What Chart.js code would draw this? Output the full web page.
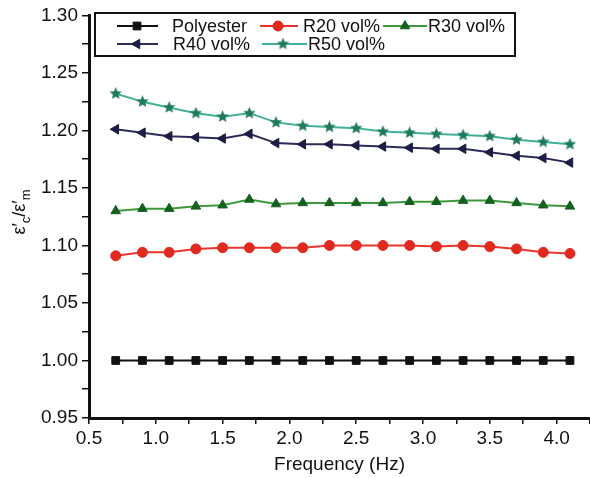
<!DOCTYPE html>
<html>
<head>
<meta charset="utf-8">
<script src="https://cdn.jsdelivr.net/npm/chart.js@4.4.1/dist/chart.umd.min.js"></script>
<style>
  body { margin: 0; background: #fff; }
  #wrap { width: 590px; height: 478px; }
</style>
</head>
<body>
<div id="wrap"><canvas id="chart" width="590" height="478"></canvas></div>
<script>
// values
const freq = [0.7, 0.9, 1.1, 1.3, 1.5, 1.7, 1.9, 2.1, 2.3, 2.5, 2.7, 2.9, 3.1, 3.3, 3.5, 3.7, 3.9, 4.1];
const polyester = [1.000, 1.000, 1.000, 1.000, 1.000, 1.000, 1.000, 1.000, 1.000, 1.000, 1.000, 1.000, 1.000, 1.000, 1.000, 1.000, 1.000, 1.000];
const r20 = [1.091, 1.094, 1.094, 1.097, 1.098, 1.098, 1.098, 1.098, 1.100, 1.100, 1.100, 1.100, 1.099, 1.100, 1.099, 1.097, 1.094, 1.093];
const r30 = [1.130, 1.132, 1.132, 1.134, 1.135, 1.140, 1.136, 1.137, 1.137, 1.137, 1.137, 1.138, 1.138, 1.139, 1.139, 1.137, 1.135, 1.134];
const r40 = [1.201, 1.198, 1.195, 1.194, 1.193, 1.197, 1.189, 1.188, 1.188, 1.187, 1.186, 1.185, 1.184, 1.184, 1.181, 1.178, 1.176, 1.172];
const r50 = [1.232, 1.225, 1.220, 1.215, 1.212, 1.215, 1.207, 1.204, 1.203, 1.202, 1.199, 1.198, 1.197, 1.196, 1.195, 1.192, 1.190, 1.188];
const seriesNames = ["Polyester", "R20 vol%", "R30 vol%", "R40 vol%", "R50 vol%"];

const FONT = "'Liberation Sans', Arial, sans-serif";

// filled star marker (chart.js 'star' is only strokes)
function makeStar(color, size) {
  const c = document.createElement("canvas");
  c.width = size; c.height = size;
  const g = c.getContext("2d");
  const cx = size / 2, cy = size / 2, ro = size / 2, ri = ro * 0.45;
  g.beginPath();
  for (let i = 0; i < 10; i++) {
    const r = i % 2 ? ri : ro;
    const a = -Math.PI / 2 + i * Math.PI / 5;
    g.lineTo(cx + r * Math.cos(a), cy + r * Math.sin(a));
  }
  g.closePath();
  g.fillStyle = color;
  g.fill();
  return c;
}
const starImg = makeStar("#1e7a58", 13);

const styles = [
  { line: "#111111", mark: "#111111", point: "rect", radius: 5.5, rotation: 0 },
  { line: "#e8352b", mark: "#e02a20", point: "circle", radius: 5, rotation: 0 },
  { line: "#3c9a3c", mark: "#15601f", point: "triangle", radius: 5.5, rotation: 0 },
  { line: "#2c2c58", mark: "#1c1c44", point: "triangle", radius: 5.5, rotation: -90 },
  { line: "#40b09a", mark: "#1e7a58", point: starImg, radius: 6, rotation: 0 }
];
const allValues = [polyester, r20, r30, r40, r50];

const datasets = allValues.map((vals, k) => ({
  label: seriesNames[k],
  data: freq.map((f, i) => ({ x: f, y: vals[i] })),
  borderColor: styles[k].line,
  borderWidth: 2,
  pointStyle: styles[k].point,
  pointRadius: styles[k].radius,
  pointRotation: styles[k].rotation,
  pointBackgroundColor: styles[k].mark,
  pointBorderColor: styles[k].mark,
  pointBorderWidth: 1,
  tension: 0
}));

// legend box with line + marker samples
const legendBox = {
  id: "legendBox",
  afterDraw(chart) {
    const ctx = chart.ctx;
    ctx.save();
    ctx.fillStyle = "#fff";
    ctx.fillRect(95, 13, 420, 43);
    ctx.strokeStyle = "#111";
    ctx.lineWidth = 2;
    ctx.strokeRect(95, 13, 420, 43);
    const items = [
      { k: 0, x1: 117, x2: 158, mx: 137, tx: 172, y: 26 },
      { k: 1, x1: 260, x2: 298, mx: 278, tx: 303, y: 26 },
      { k: 2, x1: 383, x2: 427, mx: 405, tx: 428, y: 26 },
      { k: 3, x1: 117, x2: 158, mx: 137, tx: 173, y: 44 },
      { k: 4, x1: 262, x2: 307, mx: 283, tx: 308, y: 44 }
    ];
    ctx.font = "18px " + FONT;
    ctx.textBaseline = "middle";
    items.forEach(it => {
      const s = styles[it.k];
      ctx.strokeStyle = s.line;
      ctx.lineWidth = 2;
      ctx.beginPath();
      ctx.moveTo(it.x1, it.y);
      ctx.lineTo(it.x2, it.y);
      ctx.stroke();
      ctx.fillStyle = s.mark;
      ctx.strokeStyle = s.mark;
      ctx.lineWidth = 1;
      Chart.helpers.drawPoint(ctx, { pointStyle: s.point, radius: s.radius, rotation: s.rotation, borderWidth: 1 }, it.mx, it.y);
      ctx.fillStyle = "#111";
      ctx.fillText(seriesNames[it.k], it.tx, it.y + 1);
    });
    ctx.restore();
  }
};

// y axis title with subscripts
const yTitle = {
  id: "yTitle",
  afterDraw(chart) {
    const ctx = chart.ctx;
    const parts = [
      { t: "\u03b5\u2032", f: 18, dy: 0 },
      { t: "c", f: 13, dy: 6 },
      { t: "/\u03b5\u2032", f: 18, dy: 0 },
      { t: "m", f: 13, dy: 6 }
    ];
    ctx.save();
    ctx.translate(20, 212);
    ctx.rotate(-Math.PI / 2);
    ctx.fillStyle = "#111";
    ctx.textBaseline = "middle";
    let w = 0;
    parts.forEach(p => { ctx.font = p.f + "px " + FONT; p.w = ctx.measureText(p.t).width; w += p.w; });
    let x = -w / 2;
    parts.forEach(p => {
      ctx.font = p.f + "px " + FONT;
      ctx.fillText(p.t, x, p.dy);
      x += p.w;
    });
    ctx.restore();
  }
};

function onGrid(v, step) {
  return Math.abs(v / step - Math.round(v / step)) < 1e-6;
}

new Chart(document.getElementById("chart"), {
  type: "line",
  data: { datasets: datasets },
  options: {
    responsive: false,
    animation: false,
    layout: { autoPadding: false, padding: { top: 15, right: 0, left: 0, bottom: 0 } },
    plugins: { legend: { display: false }, tooltip: { enabled: false } },
    scales: {
      x: {
        type: "linear",
        min: 0.5,
        max: 4.25,
        afterFit: scale => { scale.height = 60; scale.paddingRight = 0; scale.paddingLeft = 0; },
        ticks: {
          stepSize: 0.25,
          autoSkip: false,
          maxRotation: 0,
          padding: 3,
          color: "#111",
          font: { family: FONT, size: 19 },
          callback: v => onGrid(v, 0.5) ? v.toFixed(1) : ""
        },
        grid: { drawOnChartArea: false, color: "#111", lineWidth: 1.5, tickLength: 6 },
        border: { display: true, color: "#111", width: 3 },
        title: { display: true, text: "Frequency (Hz)", color: "#111", font: { family: FONT, size: 19 }, padding: { top: 0, bottom: 2 } }
      },
      y: {
        min: 0.95,
        max: 1.30,
        afterBuildTicks: scale => { scale.ticks = scale.ticks.filter(t => onGrid(t.value, 0.025)); },
        afterFit: scale => { scale.width = 89; },
        ticks: {
          stepSize: 0.025,
          autoSkip: false,
          padding: 4,
          color: "#111",
          font: { family: FONT, size: 19 },
          callback: v => onGrid(v, 0.05) ? v.toFixed(2) : ""
        },
        grid: { drawOnChartArea: false, color: "#111", lineWidth: 1.5, tickLength: 7 },
        border: { display: true, color: "#111", width: 3 }
      }
    }
  },
  plugins: [legendBox, yTitle]
});
</script>
</body>
</html>
